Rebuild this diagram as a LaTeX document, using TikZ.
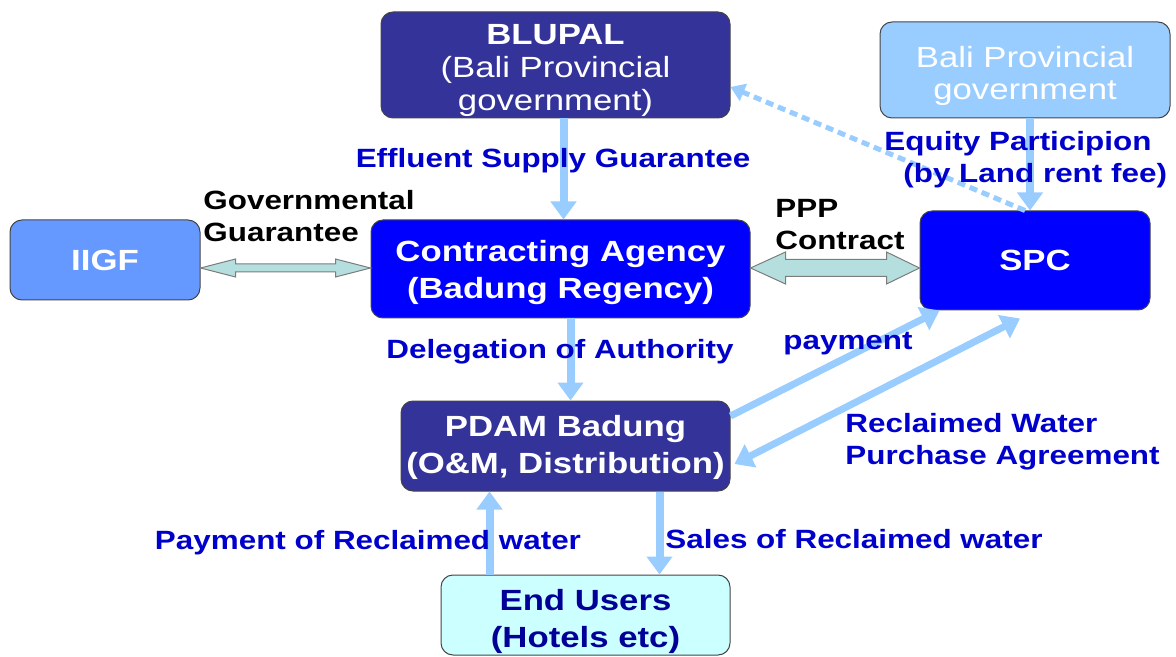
\documentclass[tikz,border=0pt]{standalone}
\usepackage{fontspec}
\setmainfont{Liberation Sans}[FakeStretch=1.19]
\usepackage{xcolor}
\usepackage{tikz}
\usetikzlibrary{arrows.meta,calc}
\definecolor{pppnavy}{HTML}{333399}
\definecolor{pppblue}{HTML}{0000FF}
\definecolor{pppsky}{HTML}{99CCFF}
\definecolor{pppmid}{HTML}{6699FF}
\definecolor{pppcyan}{HTML}{CCFFFF}
\definecolor{ppplabel}{HTML}{0000CC}
\definecolor{pppdeep}{HTML}{000099}
\definecolor{pppblock}{HTML}{B5DEDE}
\definecolor{pppedge}{HTML}{444444}
% lower a line of box text without changing its size
\newcommand\lowr[2]{\raisebox{-#1}[\height][\depth]{#2}}

\begin{document}
\begin{tikzpicture}[x=.5pt,y=-.5pt,>=Triangle,line cap=butt,
  box/.style={draw=pppedge,line width=.5pt,rounded corners=6pt,
    align=center,text=white,inner sep=0pt,
    font=\fontsize{14.6}{18.5}\selectfont\bfseries},
  tag/.style={text=ppplabel,inner sep=0pt,
    font=\fontsize{13.2}{16.2}\selectfont\bfseries},
  flow/.style={draw=pppsky,line width=4pt,
    -{Triangle[width=12.5pt,length=9pt]}},
  dblock/.style={draw=pppedge!70,fill=pppblock,line width=.5pt,
    line join=miter}]
  \useasboundingbox (0,0) rectangle (1176,657);

  % boxes
  \node[box,fill=pppnavy,minimum width=174.5pt,minimum height=53pt,
    font=\fontsize{14.6}{16.5}\selectfont] (blupal) at (555.5,65)
    {\lowr{2.5pt}{\textbf{BLUPAL}}\\\lowr{2.5pt}{(Bali Provincial}\\\lowr{2.5pt}{government)}};
  \node[box,fill=pppsky,minimum width=145pt,minimum height=48pt,
    font=\fontsize{14.6}{16}\selectfont] (balipg) at (1025,70)
    {\lowr{3pt}{Bali Provincial}\\\lowr{3pt}{government}};
  \node[box,fill=pppmid,minimum width=95pt,minimum height=40pt]
    (iigf) at (105,260) {IIGF};
  \node[box,fill=pppblue,minimum width=189.5pt,minimum height=49pt]
    (ca) at (560.5,269) {\lowr{2pt}{Contracting Agency}\\\lowr{2pt}{(Badung Regency)}};
  \node[box,fill=pppblue,minimum width=115pt,minimum height=49.5pt]
    (spc) at (1035,260.5) {SPC};
  \node[box,fill=pppnavy,minimum width=164.5pt,minimum height=45pt]
    (pdam) at (565.5,446) {\lowr{.8pt}{PDAM Badung}\\\lowr{.8pt}{(O\&M, Distribution)}};
  \node[box,fill=pppcyan,text=pppdeep,minimum width=144.5pt,
    minimum height=40pt] (endu) at (585.5,615)
    {\lowr{3pt}{End Users}\\\lowr{3pt}{(Hotels etc)}};

  % block arrows
  \coordinate (gl) at ($(iigf.east)+(0,8)$);
  \coordinate (gr) at (gl -| ca.west);
  \draw[dblock] (gl) -- ++(35,-9) -- ++(0,5) -- ($(gr)+(-35,-4)$)
    -- ++(0,-5) -- (gr) -- ++(-35,9) -- ++(0,-5) -- ($(gl)+(35,4)$)
    -- ++(0,5) -- cycle;
  \coordinate (cl) at ($(ca.east)+(0,-1)$);
  \coordinate (cr) at (cl -| spc.west);
  \draw[dblock] (cl) -- ++(35,-16) -- ++(0,7.5) -- ($(cr)+(-33,-8.5)$)
    -- ++(0,-7.5) -- (cr) -- ++(-33,16) -- ++(0,-7.5) -- ($(cl)+(35,8.5)$)
    -- ++(0,7.5) -- cycle;

  % flows
  \draw[flow] ([xshift=4pt]blupal.south) -- ([xshift=4pt]blupal.south |- ca.north);
  \draw[flow] ([xshift=2.5pt]balipg.south) -- ([xshift=2.5pt]balipg.south |- spc.north);
  \draw[draw=pppsky,line width=2.5pt,dash pattern=on 4pt off 2.5pt,
    -{Triangle[width=9pt,length=7pt]}]
    ([xshift=-5pt]spc.north) -- ([yshift=-11pt]blupal.east);
  \draw[flow] ([xshift=5pt]ca.south) -- ([xshift=5pt]ca.south |- pdam.north);
  \draw[flow,line width=3.5pt] ([yshift=15pt]pdam.east) -- ([xshift=10pt]spc.south west);
  \draw[flow,line width=3.5pt,{Triangle[width=12.5pt,length=9pt]}-{Triangle[width=12.5pt,length=9pt]}]
    ([xshift=-7.5pt,yshift=-4pt]spc.south) -- ([xshift=2pt,yshift=-9pt]pdam.east);
  \draw[flow] ([xshift=-48pt]endu.north) -- ([xshift=-48pt]endu.north |- pdam.south);
  \draw[flow] ([xshift=37pt]endu.north |- pdam.south) -- ([xshift=37pt]endu.north);

  % labels
  \node[tag] (effl) at (553,161) {Effluent Supply Guarantee};
  \node[tag,anchor=west,align=left] (equity) at (884,159.5)
    {Equity Participion\\\hspace*{9.5pt}(by Land rent fee)};
  \node[tag,text=black,anchor=west,align=left] (govg) at (203,216)
    {Governmental\\Guarantee};
  \node[tag,text=black,anchor=west,align=left] (pppc) at (775,224.5)
    {PPP\\Contract};
  \node[tag] (deleg) at (560,352) {Delegation of Authority};
  \node[tag] (paym) at (848,344) {payment};
  \node[tag,anchor=west,align=left] (rwpa) at (845,442)
    {Reclaimed Water\\Purchase Agreement};
  \node[tag] (payrw) at (368,542.5) {Payment of Reclaimed water};
  \node[tag,anchor=west] (salesrw) at (665,539) {Sales of Reclaimed water};
\end{tikzpicture}
\end{document}
